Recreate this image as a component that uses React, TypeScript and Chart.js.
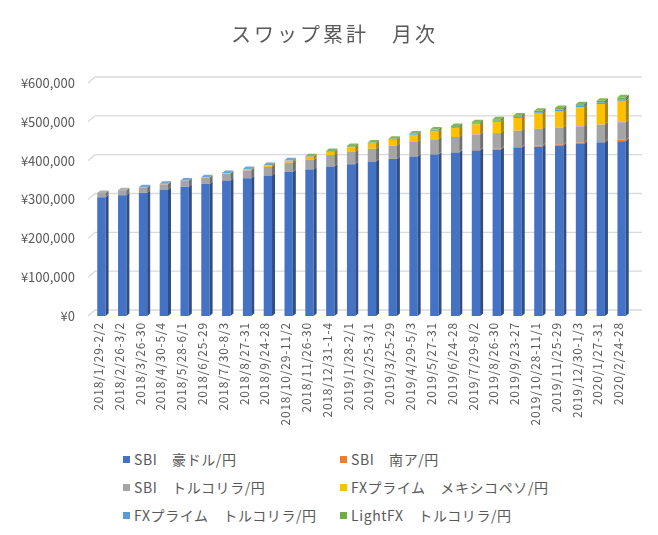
import React, { useEffect, useRef } from "react";
import { Chart, registerables } from "chart.js";

Chart.register(...registerables);

const FONT = '"Noto Sans CJK JP", "Noto Sans", sans-serif';
const TEXT_COLOR = "#595959";

const titleText = "スワップ累計　月次";

const categories = [
  "2018/1/29-2/2", "2018/2/26-3/2", "2018/3/26-30", "2018/4/30-5/4", "2018/5/28-6/1",
  "2018/6/25-29", "2018/7/30-8/3", "2018/8/27-31", "2018/9/24-28", "2018/10/29-11/2",
  "2018/11/26-30", "2018/12/31-1-4", "2019/1/28-2/1", "2019/2/25-3/1", "2019/3/25-29",
  "2019/4/29-5/3", "2019/5/27-31", "2019/6/24-28", "2019/7/29-8/2", "2019/8/26-30",
  "2019/9/23-27", "2019/10/28-11/1", "2019/11/25-29", "2019/12/30-1/3", "2020/1/27-31",
  "2020/2/24-28",
];

const seriesNames = [
  "SBI　豪ドル/円",
  "SBI　南ア/円",
  "SBI　トルコリラ/円",
  "FXプライム　メキシコペソ/円",
  "FXプライム　トルコリラ/円",
  "LightFX　トルコリラ/円",
];

const seriesColors = ["#4472C4", "#ED7D31", "#A5A5A5", "#FFC000", "#5B9BD5", "#70AD47"];

const sbiAud = [306000, 311000, 317000, 325000, 333000, 340000, 348000, 355000, 362000, 371000, 377000, 385000, 391000, 398000, 404000, 411000, 416000, 421000, 426000, 429000, 433000, 436000, 439000, 443000, 446500, 450000];
const sbiZar = [0, 0, 0, 0, 0, 0, 0, 0, 0, 0, 0, 500, 500, 500, 500, 1000, 1000, 1000, 1500, 2000, 2000, 3000, 3000, 3500, 3500, 4000];
const sbiTry = [11000, 13000, 14000, 14000, 15000, 16000, 18000, 20000, 22000, 24000, 25000, 29000, 31000, 32000, 34000, 36000, 38000, 39000, 40000, 40000, 42000, 43000, 43000, 42000, 43000, 45000];
const fxpMxn = [0, 0, 0, 1000, 500, 1000, 2000, 3000, 4000, 5000, 8000, 8000, 12000, 13000, 15000, 18000, 20000, 23000, 26000, 29000, 33000, 39000, 43000, 49000, 53000, 55000];
const fxpTry = [0, 0, 500, 500, 500, 500, 500, 500, 1000, 1000, 1000, 1000, 1000, 1000, 1000, 1500, 2000, 2000, 2500, 3000, 3000, 3500, 3500, 4000, 4000, 4000];
const lightTry = [0, 0, 0, 0, 0, 0, 0, 0, 0, 0, 500, 1500, 2000, 2000, 2000, 2500, 3000, 3000, 3000, 3500, 3500, 4000, 4000, 4000, 4500, 5000];

const seriesValues = [sbiAud, sbiZar, sbiTry, fxpMxn, fxpTry, lightTry];

const yMin = 0;
const yMax = 600000;
const yStep = 100000;

function shade(hex: string, f: number): string {
  const n = parseInt(hex.slice(1), 16);
  let r = (n >> 16) & 255;
  let g = (n >> 8) & 255;
  let b = n & 255;
  if (f <= 1) {
    r *= f; g *= f; b *= f;
  } else {
    const t = f - 1;
    r += (255 - r) * t; g += (255 - g) * t; b += (255 - b) * t;
  }
  return `rgb(${Math.round(r)},${Math.round(g)},${Math.round(b)})`;
}

const DX = 3;
const DY = 2.5;

// x tick labels get a little letter spacing (drawn before datasets);
// y tick labels are drawn on a later layer (z: 1) without it.
const spacingPlugin = {
  id: "xLabelSpacing",
  beforeDraw(chart: any) {
    (chart.ctx as any).letterSpacing = "0.8px";
  },
  beforeDatasetsDraw(chart: any) {
    (chart.ctx as any).letterSpacing = "0px";
  },
};

const backGridPlugin = {
  id: "backGrid",
  beforeDatasetsDraw(chart: any) {
    const { ctx, chartArea, scales } = chart;
    const y = scales.y;
    ctx.save();
    ctx.strokeStyle = "#D9D9D9";
    ctx.lineWidth = 1.3;
    y.ticks.forEach((t: any) => {
      const py = y.getPixelForValue(t.value);
      ctx.beginPath();
      ctx.moveTo(chartArea.left - 3, py);
      ctx.lineTo(chartArea.left + 4, py - 6);
      ctx.lineTo(chartArea.right + 10, py - 6);
      ctx.stroke();
    });
    ctx.restore();
  },
};

const depthPlugin = {
  id: "depth3d",
  afterDatasetsDraw(chart: any) {
    const ctx = chart.ctx;
    const n = chart.data.labels.length;
    ctx.save();
    for (let i = 0; i < n; i++) {
      let top: any = null;
      let topColor = "";
      chart.data.datasets.forEach((ds: any, d: number) => {
        const meta = chart.getDatasetMeta(d);
        const el = meta.data[i];
        const v = ds.data[i];
        if (!el || !v) return;
        const { x, y, base, width } = el.getProps(["x", "y", "base", "width"], true);
        const r = x + width / 2;
        ctx.fillStyle = shade(ds.backgroundColor, 0.68);
        ctx.beginPath();
        ctx.moveTo(r, y);
        ctx.lineTo(r + DX, y - DY);
        ctx.lineTo(r + DX, base - DY);
        ctx.lineTo(r, base);
        ctx.closePath();
        ctx.fill();
        top = { x, y, width };
        topColor = ds.backgroundColor;
      });
      if (top) {
        const l = top.x - top.width / 2;
        const r = top.x + top.width / 2;
        ctx.fillStyle = shade(topColor, 1.12);
        ctx.beginPath();
        ctx.moveTo(l, top.y);
        ctx.lineTo(r, top.y);
        ctx.lineTo(r + DX, top.y - DY);
        ctx.lineTo(l + DX, top.y - DY);
        ctx.closePath();
        ctx.fill();
      }
    }
    ctx.restore();
  },
};

const legendCols = [123, 340];
const legendRows = [459, 487, 515];

export default function App() {
  const canvasRef = useRef<HTMLCanvasElement | null>(null);

  useEffect(() => {
    const canvas = canvasRef.current;
    if (!canvas) return;
    const chart = new Chart(canvas, {
      type: "bar",
      data: {
        labels: categories,
        datasets: seriesNames.map((name, i) => ({
          label: name,
          data: seriesValues[i],
          backgroundColor: seriesColors[i],
          borderWidth: 0,
          barPercentage: 0.4,
          categoryPercentage: 1.0,
        })),
      },
      options: {
        animation: false,
        responsive: false,
        devicePixelRatio: 1,
        layout: { padding: { top: 83, right: 26, left: 0, bottom: 0 } },
        plugins: {
          legend: { display: false },
          tooltip: { enabled: false },
          title: { display: false },
        },
        scales: {
          x: {
            stacked: true,
            grid: { display: false, drawTicks: false },
            border: { display: false },
            ticks: {
              minRotation: 90,
              maxRotation: 90,
              autoSkip: false,
              padding: 6,
              labelOffset: -3,
              color: TEXT_COLOR,
              font: { family: FONT, size: 12 },
            },
            afterFit: (s: any) => {
              s.height = 124;
            },
          },
          y: {
            stacked: true,
            min: yMin,
            max: yMax,
            grid: { display: false, drawTicks: false },
            border: { display: false },
            ticks: {
              z: 1,
              stepSize: yStep,
              padding: 16,
              color: TEXT_COLOR,
              font: { family: FONT, size: 13 },
              callback: (v: any) => "¥" + Number(v).toLocaleString("en-US"),
            },
            afterFit: (s: any) => {
              s.width = 91;
            },
          },
        },
      },
      plugins: [spacingPlugin, backGridPlugin, depthPlugin],
    } as any);
    return () => chart.destroy();
  }, []);

  return (
    <div
      style={{
        position: "fixed",
        left: 0,
        top: 0,
        width: 658,
        height: 535,
        background: "#fff",
        fontFamily: FONT,
        overflow: "hidden",
      }}
    >
      <canvas
        ref={canvasRef}
        width={658}
        height={440}
        style={{ position: "absolute", left: 0, top: 0, width: 658, height: 440 }}
      />
      <div
        style={{
          position: "absolute",
          left: 231,
          top: 22,
          fontSize: 20,
          lineHeight: "24px",
          letterSpacing: "3px",
          color: TEXT_COLOR,
          whiteSpace: "nowrap",
        }}
      >
        {titleText}
      </div>
      {seriesNames.map((name, i) => {
        const col = legendCols[i % 2];
        const row = legendRows[Math.floor(i / 2)];
        return (
          <div
            key={name}
            style={{
              position: "absolute",
              left: col,
              top: row - 10,
              height: 20,
              display: "flex",
              alignItems: "center",
              whiteSpace: "nowrap",
            }}
          >
            <span
              style={{
                display: "inline-block",
                width: 7,
                height: 7,
                background: seriesColors[i],
                marginRight: 4,
              }}
            />
            <span
              style={{
                fontSize: 14,
                lineHeight: "20px",
                letterSpacing: "0.6px",
                color: TEXT_COLOR,
              }}
            >
              {name}
            </span>
          </div>
        );
      })}
    </div>
  );
}
